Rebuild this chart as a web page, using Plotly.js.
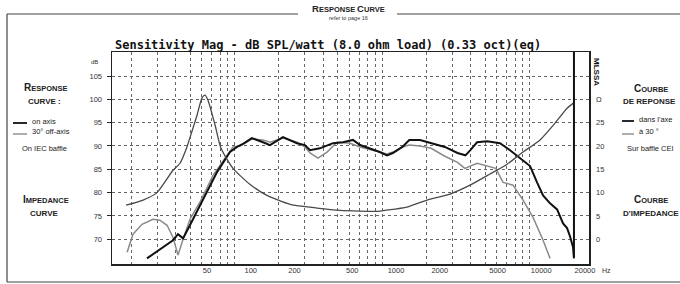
<!DOCTYPE html>
<html>
<head>
<meta charset="utf-8">
<script src="https://cdn.plot.ly/plotly-3.0.1.min.js"></script>
<style>html,body{margin:0;padding:0;background:#fff;}#chart{width:680px;height:284px;}</style>
</head>
<body>
<div id="chart"></div>
<script>
// ---- data ----
const impFreq = [18.4, 24, 29.8, 38.3, 42.7, 47.6, 49.9, 55.7, 60.2, 63.1, 66.1, 73.8, 81, 97.7, 127, 166, 238, 362, 519, 939, 1048, 1477, 2020, 2891, 3951, 5398, 7039, 9036, 11780, 14890, 17960, 20000];
const impOhm  = [7.3, 8.4, 10.0, 14.8, 16.3, 19.8, 21.8, 26.6, 30.3, 30.9, 29.8, 24.5, 19.5, 15.2, 11.8, 9.4, 7.5, 6.7, 6.2, 6.0, 6.2, 6.9, 8.4, 9.7, 11.6, 14.0, 16.1, 18.7, 21.3, 24.9, 28.1, 29.3];

const onFreq = [25.5, 31.2, 38.3, 41.4, 44.8, 52.3, 61.2, 76.1, 93.2, 104, 115, 131, 156, 174, 213, 265, 300, 325, 379, 465, 544, 635, 710, 828, 965, 1081, 1184, 1374, 1530, 1809, 2152, 2665, 3249, 3678, 3969, 4406, 5152, 6304, 7376, 8623, 10080, 11240, 12350, 13770, 15370, 16870, 17960, 18820, 19720, 20000];
const onDb   = [65.9, 67.9, 69.8, 71.1, 70.2, 74.3, 78.6, 84.4, 88.7, 89.8, 90.5, 91.7, 90.8, 90.2, 91.9, 90.6, 90.2, 89.1, 89.5, 90.6, 90.8, 91.3, 90.2, 89.5, 88.7, 88.0, 88.5, 89.8, 91.3, 91.3, 90.6, 89.8, 88.5, 88.0, 89.1, 90.8, 91.0, 90.6, 89.1, 87.4, 85.7, 82.2, 79.4, 77.7, 76.4, 73.4, 72.4, 70.6, 68.3, 65.9];

const offFreq = [18.7, 20.5, 23.6, 28, 31.2, 34.9, 38.3, 41.4, 44.8, 49.9, 58.4, 71.5, 88.9, 97.7, 109, 131, 156, 174, 213, 265, 300, 325, 368, 424, 495, 607, 710, 828, 965, 1081, 1184, 1374, 1530, 1809, 2152, 2665, 3249, 3640, 4406, 5900, 6613, 7725, 9036, 10560, 12350, 13770];
const offDb   = [67.2, 71.1, 73.2, 74.3, 74.1, 73.0, 70.4, 66.6, 70.0, 74.3, 78.0, 83.7, 88.0, 89.8, 90.0, 91.5, 91.3, 90.8, 91.7, 90.8, 89.8, 88.5, 87.4, 88.7, 90.8, 90.6, 89.8, 89.3, 88.7, 88.3, 88.7, 89.8, 90.2, 90.0, 89.5, 87.8, 86.5, 85.2, 86.3, 85.2, 82.2, 81.6, 78.4, 74.7, 69.8, 65.9];

const gridFreqs = [20, 30, 40, 50, 60, 70, 80, 90, 100, 200, 300, 400, 500, 600, 700, 800, 900, 1000, 2000, 3000, 4000, 5000, 6000, 7000, 8000, 9000, 10000];
const xLabelVals = [50, 100, 200, 500, 1000, 2000, 5000, 10000, 20000];
const xLabelText = ['50', '100', '200', '500', '1000', '2000', '5000', '10000', '20000'];
const dbTicks = [70, 75, 80, 85, 90, 95, 100, 105];
const ohmTicks = [0, 5, 10, 15, 20, 25, 30];
const ohmTickText = ['0', '5', '10', '15', '20', '25', 'Ω'];

// ---- layout helpers (pixel -> paper) ----
const L = 112, R = 589, T = 52, B = 264;
const px = x => (x - L) / (R - L);
const py = y => (B - y) / (B - T);
const SANS = 'Liberation Sans, Arial, sans-serif';

function sc(text, big, small) {
  return text.split(' ').map(w => {
    if (!/^[A-Z]/.test(w)) return w;
    const first = w.startsWith("D'") ? w.slice(0, 3) : w[0];
    const rest = w.slice(first.length);
    return '<span style="font-size:' + big + 'px">' + first + '</span>' + (rest ? '<span style="font-size:' + small + 'px">' + rest + '</span>' : '');
  }).join(' ');
}

function ann(text, x, y, opts) {
  return Object.assign({
    text: text, xref: 'paper', yref: 'paper', x: px(x), y: py(y),
    xanchor: 'left', yanchor: 'middle', showarrow: false,
    font: {family: SANS, size: 7.5, color: '#222'}
  }, opts || {});
}

const traces = [
  {x: offFreq, y: offDb, type: 'scatter', mode: 'lines', xaxis: 'x', yaxis: 'y',
   line: {color: '#8a8a8a', width: 1.5}, hoverinfo: 'skip'},
  {x: onFreq, y: onDb, type: 'scatter', mode: 'lines', xaxis: 'x', yaxis: 'y',
   line: {color: '#111', width: 2}, hoverinfo: 'skip'},
  {x: impFreq, y: impOhm, type: 'scatter', mode: 'lines', xaxis: 'x', yaxis: 'y2',
   line: {color: '#4a4a4a', width: 1.3, shape: 'spline', smoothing: 0.6}, hoverinfo: 'skip'},
  // carrier for the printed frequency labels (draws nothing)
  {x: xLabelVals, y: xLabelVals.map(() => null), type: 'scatter', mode: 'lines', xaxis: 'x2', yaxis: 'y',
   line: {width: 0}, hoverinfo: 'skip'}
];

const bold = {family: SANS, size: 7, color: '#222', weight: 'bold'};

const layout = {
  width: 680, height: 284,
  margin: {l: L, r: 680 - R, t: T, b: 284 - B, pad: 0},
  paper_bgcolor: '#fff', plot_bgcolor: '#fff', showlegend: false,
  font: {family: SANS, size: 8, color: '#222'},
  title: {
    text: 'Sensitivity Mag - dB SPL/watt (8.0 ohm load) (0.33 oct)(eq)',
    font: {family: 'DejaVu Sans Mono, monospace', size: 12, color: '#111', weight: 'bold'},
    xref: 'container', yref: 'container', x: 115 / 680, xanchor: 'left', y: 1 - 45 / 284, yanchor: 'middle'
  },
  xaxis: {
    type: 'log', range: [1.1695, 4.403], tickvals: gridFreqs, showticklabels: false, ticks: '',
    showgrid: true, gridcolor: '#666', griddash: 'dot', gridwidth: 1,
    showline: true, linecolor: '#222', linewidth: 1.5, mirror: true, zeroline: false
  },
  xaxis2: {
    type: 'log', overlaying: 'x', anchor: 'y', side: 'bottom', range: [1.045, 4.3285],
    tickvals: xLabelVals, ticktext: xLabelText, showgrid: false, showline: false, ticks: '',
    tickfont: {family: SANS, size: 7.5, color: '#333'}, zeroline: false
  },
  yaxis: {
    range: [64.7, 110.15], tickvals: dbTicks, ticks: 'outside', ticklen: 4, tickcolor: '#222',
    showgrid: true, gridcolor: '#666', griddash: 'dot', gridwidth: 1,
    showline: true, linecolor: '#222', linewidth: 1.5, mirror: true, zeroline: false,
    tickfont: {family: SANS, size: 7.5, color: '#333'}, ticklabelstandoff: 3
  },
  yaxis2: {
    overlaying: 'y', side: 'right', anchor: 'x', range: [-5.3, 40.15], tickvals: ohmTicks, ticktext: ohmTickText,
    showgrid: false, showline: false, ticks: '', zeroline: false,
    tickfont: {family: SANS, size: 7.5, color: '#333'}, ticklabelstandoff: 6
  },
  shapes: [
    // 20 kHz heavy line
    {type: 'line', xref: 'x', yref: 'paper', x0: 20000, x1: 20000, y0: py(257), y1: 1, line: {color: '#111', width: 2}},
    // page frame
    {type: 'line', xref: 'paper', yref: 'paper', x0: px(7), x1: px(298), y0: py(14), y1: py(14), line: {color: '#444', width: 1.2}},
    {type: 'line', xref: 'paper', yref: 'paper', x0: px(397), x1: px(680), y0: py(14), y1: py(14), line: {color: '#444', width: 1.2}},
    {type: 'line', xref: 'paper', yref: 'paper', x0: px(7), x1: px(7), y0: py(14), y1: py(282), line: {color: '#444', width: 1.2}},
    {type: 'line', xref: 'paper', yref: 'paper', x0: px(7), x1: px(680), y0: py(282), y1: py(282), line: {color: '#444', width: 1.2}},
    // legend samples
    {type: 'line', xref: 'paper', yref: 'paper', x0: px(13), x1: px(27), y0: py(123), y1: py(123), line: {color: '#111', width: 1.8}},
    {type: 'line', xref: 'paper', yref: 'paper', x0: px(13), x1: px(27), y0: py(134), y1: py(134), line: {color: '#777', width: 1.2}},
    {type: 'line', xref: 'paper', yref: 'paper', x0: px(622), x1: px(634), y0: py(121), y1: py(121), line: {color: '#111', width: 1.8}},
    {type: 'line', xref: 'paper', yref: 'paper', x0: px(622), x1: px(634), y0: py(134), y1: py(134), line: {color: '#777', width: 1.2}}
  ],
  annotations: [
    ann(sc('RESPONSE CURVE', 9.5, 7.5), 348, 8, {xanchor: 'center', font: bold}),
    ann('refer to page 16', 348, 18, {xanchor: 'center', font: {family: SANS, size: 5.5, color: '#333'}}),
    ann(sc('RESPONSE', 10, 7.5), 46, 87, {xanchor: 'center', font: bold}),
    ann('<span style="font-size:8px">CURVE :</span>', 44, 101, {xanchor: 'center', font: bold}),
    ann('on axis', 30, 121),
    ann('30° off-axis', 30, 131),
    ann('On IEC baffle', 20, 148),
    ann(sc('IMPEDANCE', 10, 7.5), 46, 199, {xanchor: 'center', font: bold}),
    ann('<span style="font-size:8px">CURVE</span>', 44, 213, {xanchor: 'center', font: bold}),
    ann(sc('COURBE', 10, 7.5), 651, 88, {xanchor: 'center', font: bold}),
    ann('<span style="font-size:8px">DE REPONSE</span>', 621, 101, {font: bold}),
    ann("dans l'axe", 637, 119),
    ann('à 30 °', 637, 131),
    ann('Sur baffle CEI', 625, 148),
    ann(sc('COURBE', 10, 7.5), 651, 199, {xanchor: 'center', font: bold}),
    ann('<span style="font-size:8px">D\'IMPEDANCE</span>', 621, 213, {font: bold}),
    ann('MLSSA', 597, 72, {xanchor: 'center', textangle: 90, font: {family: SANS, size: 8, color: '#111', weight: 'bold'}}),
    ann('dB', 94, 62, {xanchor: 'center', font: {family: SANS, size: 6, color: '#333'}}),
    ann('Hz', 600, 270, {font: {family: SANS, size: 7, color: '#333'}})
  ]
};

Plotly.newPlot('chart', traces, layout, {staticPlot: true, displayModeBar: false});
</script>
</body>
</html>
